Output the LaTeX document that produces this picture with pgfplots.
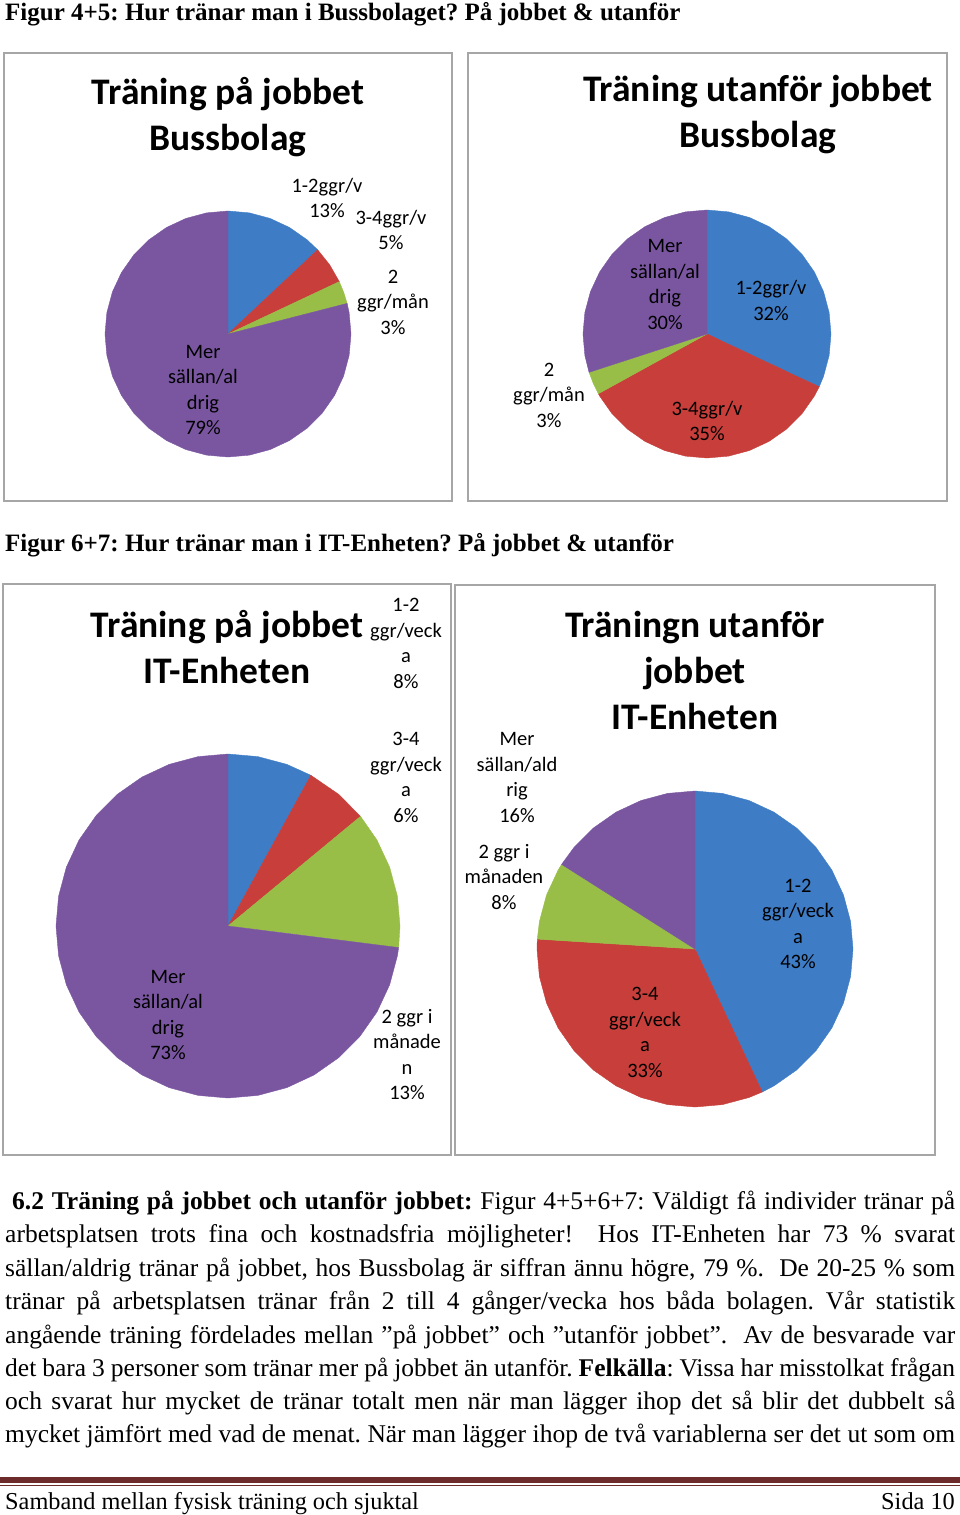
\documentclass[border=0pt]{standalone}
\usepackage{fontspec}
\usepackage{pgfplots}
\pgfplotsset{compat=1.18}
\usepgfplotslibrary{polar}
\setmainfont{Liberation Serif}
\newfontfamily\bodyf{Liberation Serif}
\newfontfamily\calf{Carlito}
\definecolor{cblue}{RGB}{62,124,198}
\definecolor{cred}{RGB}{199,62,58}
\definecolor{cgreen}{RGB}{152,190,72}
\definecolor{cpurple}{RGB}{122,86,160}
\definecolor{cbox}{RGB}{166,166,166}
\definecolor{cfoot}{RGB}{110,43,43}
\pgfplotsset{piechart/.style={hide axis, anchor=center, data cs=polar,
  xmin=-1.02,xmax=1.02,ymin=-1.02,ymax=1.02, clip=false}}
\newcommand\slice[2]{\addplot[fill=#1,draw=#1,line width=0.4pt] coordinates {#2} -- cycle;}
\newcommand\lab[3]{\node[align=center,font=\calf\fontsize{20.5}{25.5}\selectfont,inner sep=0pt] at (#1,-#2) {#3};}
\newcommand\ctitle[3]{\node[align=center,font=\calf\bfseries\fontsize{37.5}{46}\selectfont,inner sep=0pt] at (#1,-#2) {#3};}
\newcommand\bl[4]{\node[anchor=base west,inner sep=0pt,font=\bodyf\fontsize{25.5}{33}\selectfont] at (#1,-#2) {\makebox[#3pt][s]{#4}};}
\frenchspacing
\begin{document}
\frenchspacing
\begin{tikzpicture}[x=1pt,y=1pt]
\coordinate (p1) at (228,-334);
\coordinate (p2) at (707,-334);
\coordinate (p3) at (228,-926);
\coordinate (p4) at (695,-949);
% section titles
\node[anchor=west,inner sep=0pt,font=\bodyf\bfseries\fontsize{25}{28}\selectfont] at (5,-14) {Figur 4+5: Hur tränar man i Bussbolaget? På jobbet \& utanför};
\node[anchor=west,inner sep=0pt,font=\bodyf\bfseries\fontsize{25}{28}\selectfont] at (5,-545) {Figur 6+7: Hur tränar man i IT-Enheten? På jobbet \& utanför};
% boxes
\draw[cbox,line width=1.5pt] (4,-53) rectangle (452,-501);
\draw[cbox,line width=1.5pt] (468,-53) rectangle (947,-501);
\draw[cbox,line width=1.5pt] (3,-584) rectangle (451,-1155);
\draw[cbox,line width=1.5pt] (455,-585) rectangle (935,-1155);

% Pie 1: Bussbolag, på jobbet: 13, 5, 3, 79
\begin{axis}[piechart, at={(p1)}, x=123pt, y=123pt]
\slice{cblue}{(0,0) (90,1) (80,1) (70,1) (60,1) (50,1) (43.2,1)}
\slice{cred}{(0,0) (43.2,1) (34.2,1) (25.2,1)}
\slice{cgreen}{(0,0) (25.2,1) (19.8,1) (14.4,1)}
\slice{cpurple}{(0,0) (14.4,1) (10,1) (0,1) (-10,1) (-20,1) (-30,1) (-40,1) (-50,1) (-60,1) (-70,1) (-80,1) (-90,1) (-100,1) (-110,1) (-120,1) (-130,1) (-140,1) (-150,1) (-160,1) (-170,1) (-180,1) (-190,1) (-200,1) (-210,1) (-220,1) (-230,1) (-240,1) (-250,1) (-260,1) (-270,1)}
\end{axis}

% Pie 2: Bussbolag, utanför: 32, 35, 3, 30
\begin{axis}[piechart, at={(p2)}, x=124pt, y=124pt]
\slice{cblue}{(0,0) (90,1) (80,1) (70,1) (60,1) (50,1) (40,1) (30,1) (20,1) (10,1) (0,1) (-10,1) (-20,1) (-25.2,1)}
\slice{cred}{(0,0) (-25.2,1) (-30,1) (-40,1) (-50,1) (-60,1) (-70,1) (-80,1) (-90,1) (-100,1) (-110,1) (-120,1) (-130,1) (-140,1) (-150,1) (-151.2,1)}
\slice{cgreen}{(0,0) (-151.2,1) (-156.6,1) (-162,1)}
\slice{cpurple}{(0,0) (-162,1) (-170,1) (-180,1) (-190,1) (-200,1) (-210,1) (-220,1) (-230,1) (-240,1) (-250,1) (-260,1) (-270,1)}
\end{axis}

% Pie 3: IT-Enheten, på jobbet: 8, 6, 13, 73
\begin{axis}[piechart, at={(p3)}, x=172pt, y=172pt]
\slice{cblue}{(0,0) (90,1) (80,1) (70,1) (61.2,1)}
\slice{cred}{(0,0) (61.2,1) (50,1) (39.6,1)}
\slice{cgreen}{(0,0) (39.6,1) (30,1) (20,1) (10,1) (0,1) (-7.2,1)}
\slice{cpurple}{(0,0) (-7.2,1) (-10,1) (-20,1) (-30,1) (-40,1) (-50,1) (-60,1) (-70,1) (-80,1) (-90,1) (-100,1) (-110,1) (-120,1) (-130,1) (-140,1) (-150,1) (-160,1) (-170,1) (-180,1) (-190,1) (-200,1) (-210,1) (-220,1) (-230,1) (-240,1) (-250,1) (-260,1) (-270,1)}
\end{axis}

% Pie 4: IT-Enheten, utanför: 43, 33, 8, 16
\begin{axis}[piechart, at={(p4)}, x=158pt, y=158pt]
\slice{cblue}{(0,0) (90,1) (80,1) (70,1) (60,1) (50,1) (40,1) (30,1) (20,1) (10,1) (0,1) (-10,1) (-20,1) (-30,1) (-40,1) (-50,1) (-60,1) (-64.8,1)}
\slice{cred}{(0,0) (-64.8,1) (-70,1) (-80,1) (-90,1) (-100,1) (-110,1) (-120,1) (-130,1) (-140,1) (-150,1) (-160,1) (-170,1) (-180,1) (-183.6,1)}
\slice{cgreen}{(0,0) (-183.6,1) (-190,1) (-200,1) (-210,1) (-212.4,1)}
\slice{cpurple}{(0,0) (-212.4,1) (-220,1) (-230,1) (-240,1) (-250,1) (-260,1) (-270,1)}
\end{axis}

% chart titles
\ctitle{228}{117.5}{Träning på jobbet\\Bussbolag}
\ctitle{758}{115}{Träning utanför jobbet\\Bussbolag}
\ctitle{227}{647.5}{Träning på jobbet\\IT-Enheten}
\ctitle{695}{670}{Träningn utanför\\jobbet\\IT-Enheten}

% labels pie 1
\lab{327}{198}{1-2ggr/v\\13\%}
\lab{391}{230}{3-4ggr/v\\5\%}
\lab{393}{302}{2\\ggr/mån\\3\%}
\lab{203}{390}{Mer\\sällan/al\\drig\\79\%}
% labels pie 2
\lab{665}{284.5}{Mer\\sällan/al\\drig\\30\%}
\lab{771}{300.5}{1-2ggr/v\\32\%}
\lab{549}{395}{2\\ggr/mån\\3\%}
\lab{707}{421}{3-4ggr/v\\35\%}
% labels pie 3
\lab{406}{643.5}{1-2\\ggr/veck\\a\\8\%}
\lab{406}{777.5}{3-4\\ggr/veck\\a\\6\%}
\lab{168}{1015}{Mer\\sällan/al\\drig\\73\%}
\lab{407}{1054.5}{2 ggr i\\månade\\n\\13\%}
% labels pie 4
\lab{517}{777.5}{Mer\\sällan/ald\\rig\\16\%}
\lab{504}{877}{2 ggr i\\månaden\\8\%}
\lab{798}{924}{1-2\\ggr/veck\\a\\43\%}
\lab{645}{1032.5}{3-4\\ggr/veck\\a\\33\%}

% body text
\bl{12}{1209}{943}{\textbf{6.2 Träning på jobbet och utanför jobbet:} Figur 4+5+6+7: Väldigt få individer tränar på}
\bl{5}{1242.5}{950}{arbetsplatsen trots fina och kostnadsfria möjligheter!\ \ Hos IT-Enheten har 73 \% svarat}
\bl{5}{1276}{950}{sällan/aldrig tränar på jobbet, hos Bussbolag är siffran ännu högre, 79 \%.\ \ De 20-25 \% som}
\bl{5}{1309}{950}{tränar på arbetsplatsen tränar från 2 till 4 gånger/vecka hos båda bolagen. Vår statistik}
\bl{5}{1343}{950}{angående träning fördelades mellan ”på jobbet” och ”utanför jobbet”.\ \ Av de besvarade var}
\bl{5}{1376}{950}{det bara 3 personer som tränar mer på jobbet än utanför. \textbf{Felkälla}: Vissa har misstolkat frågan}
\bl{5}{1409}{950}{och svarat hur mycket de tränar totalt men när man lägger ihop det så blir det dubbelt så}
\bl{5}{1442}{950}{mycket jämfört med vad de menat. När man lägger ihop de två variablerna ser det ut som om}

% footer
\fill[cfoot] (0,-1476.5) rectangle (960,-1482.5);
\fill[cfoot] (0,-1484.5) rectangle (960,-1486);
\node[anchor=base west,inner sep=0pt,font=\fontsize{24.3}{28}\selectfont] at (5,-1509) {Samband mellan fysisk träning och sjuktal};
\node[anchor=base east,inner sep=0pt,font=\fontsize{24.3}{28}\selectfont] at (955,-1509) {Sida 10};

\pgfresetboundingbox
\useasboundingbox (0,0) rectangle (960,-1515);
\end{tikzpicture}
\end{document}
